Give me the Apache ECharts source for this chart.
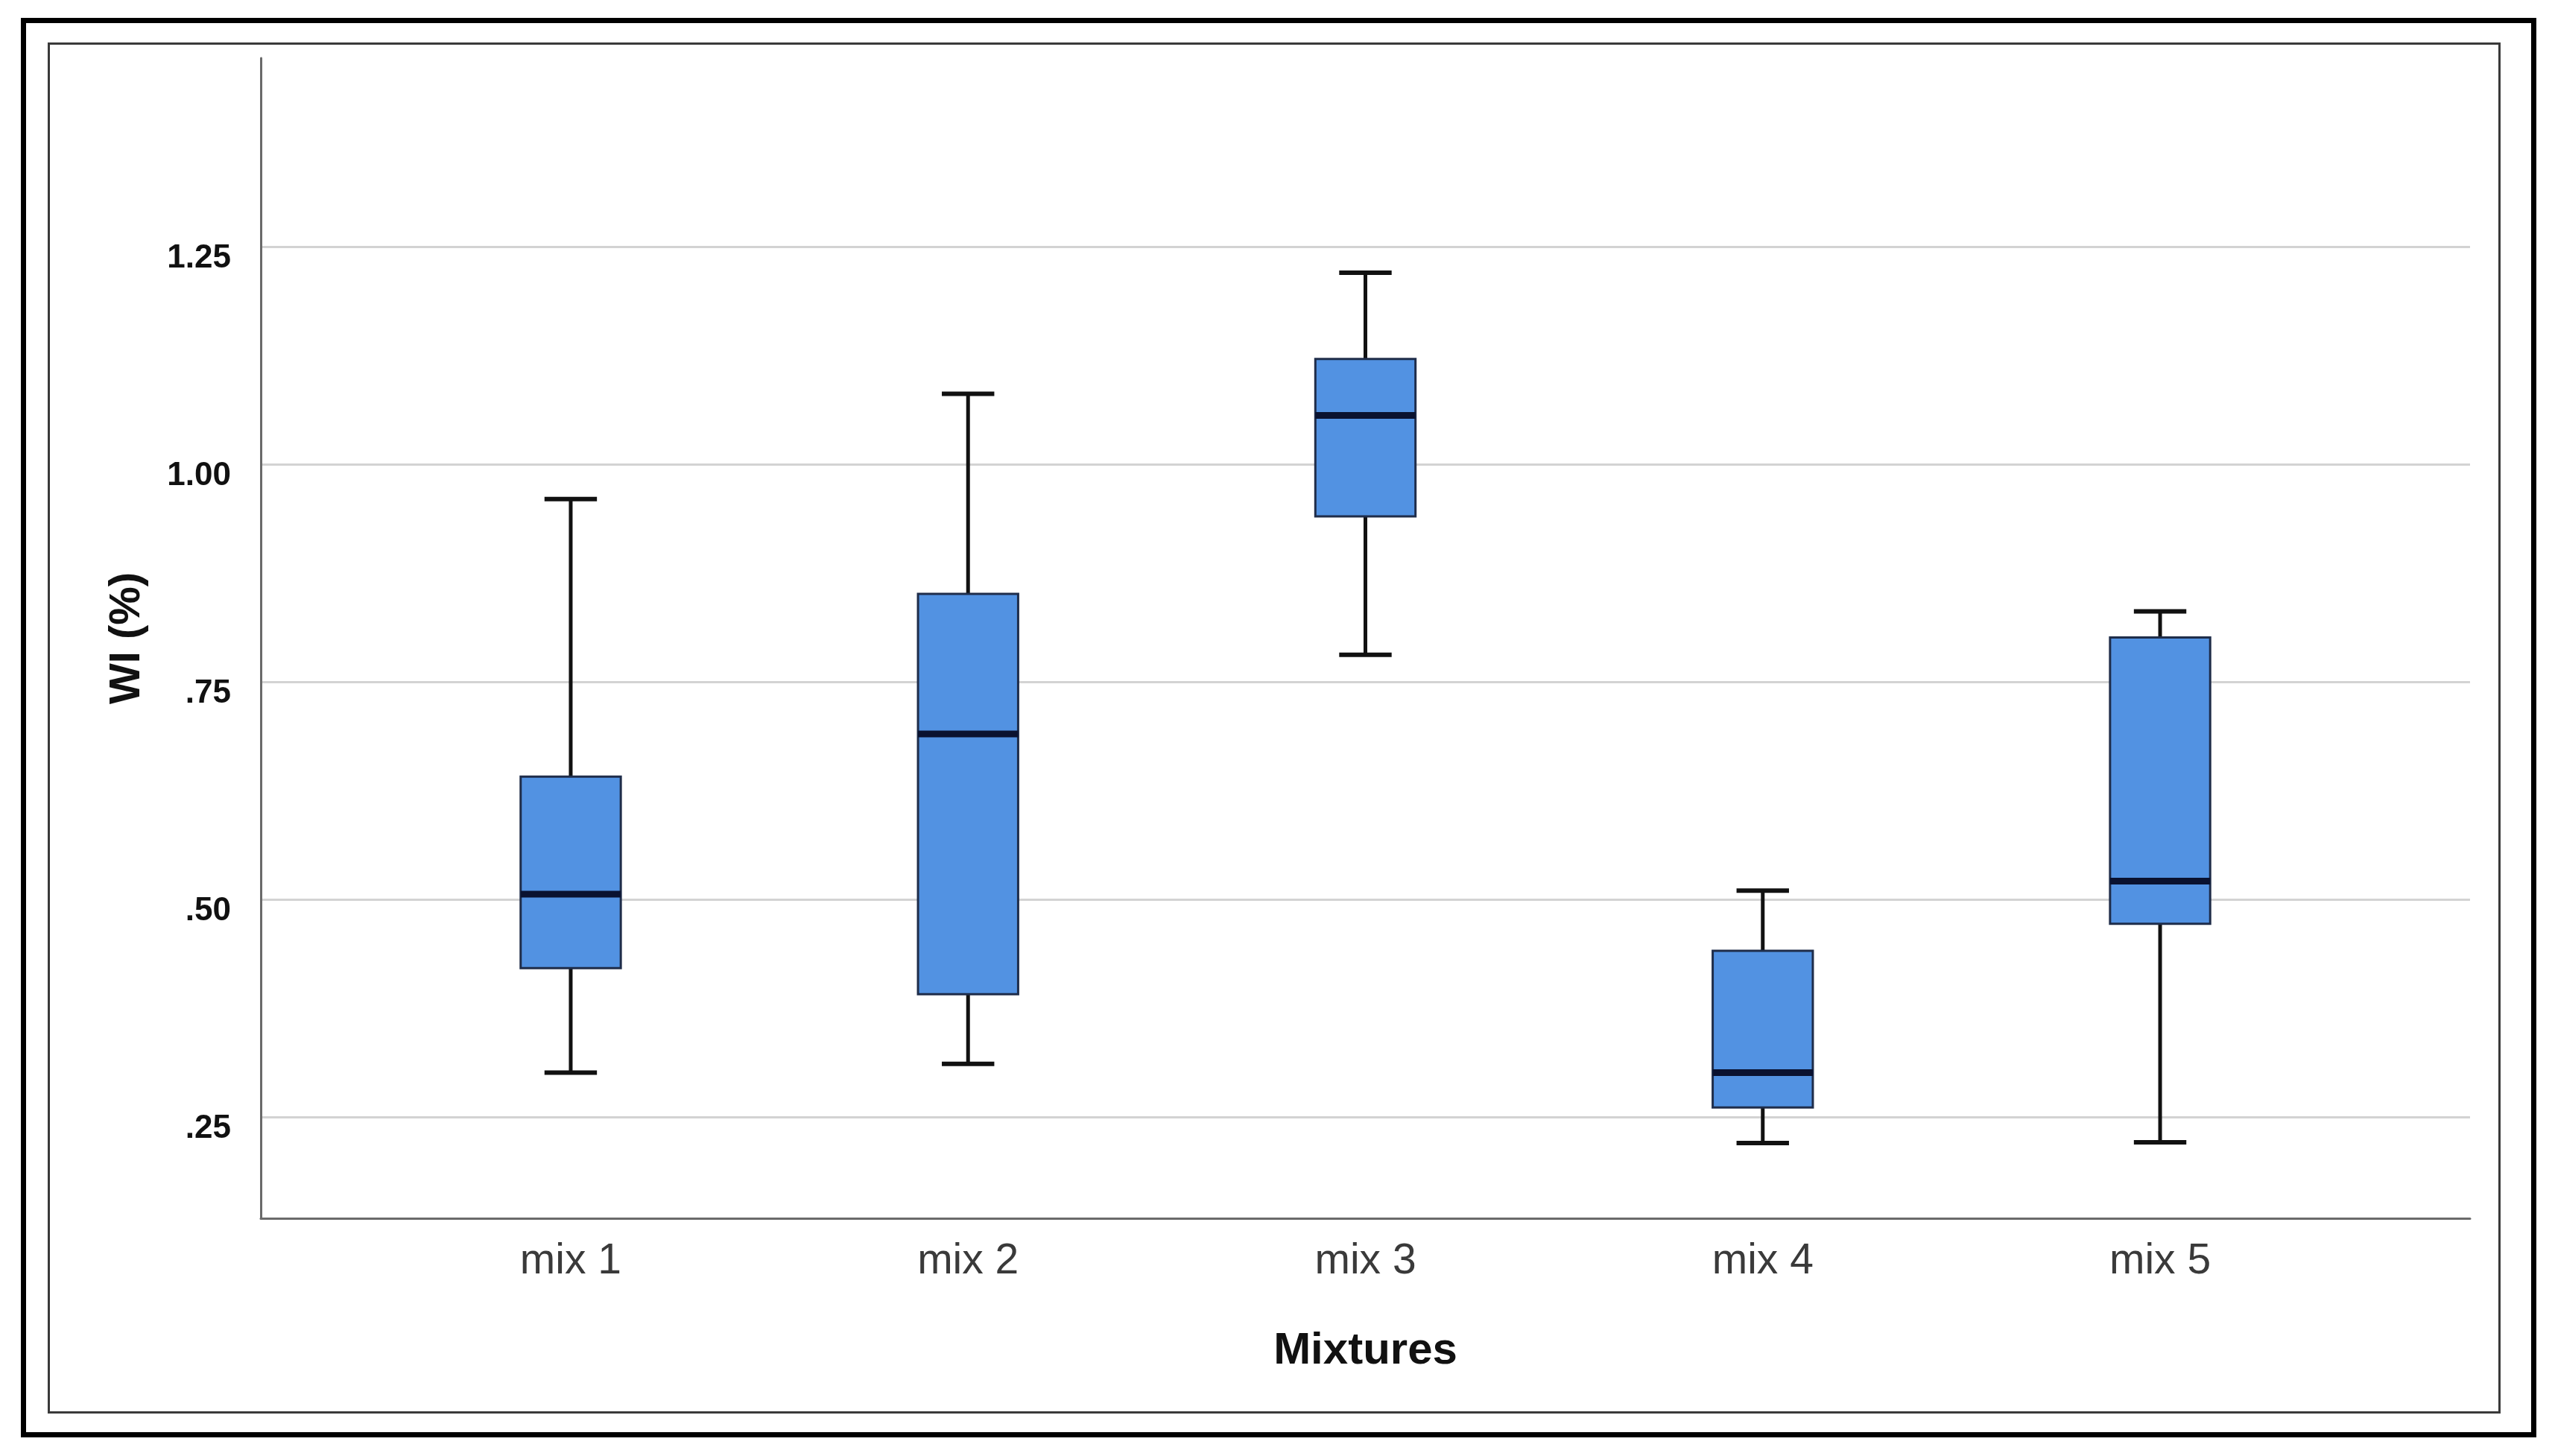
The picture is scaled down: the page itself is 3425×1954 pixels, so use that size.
<!DOCTYPE html>
<html>
<head>
<meta charset="utf-8">
<script src="https://cdn.jsdelivr.net/npm/echarts@6/dist/echarts.min.js"></script>
<style>
  html, body { margin: 0; padding: 0; background: #ffffff; }
  #chart { position: absolute; left: 0; top: 0; width: 3425px; height: 1954px; }
  .outer { position: absolute; left: 28px; top: 24px; width: 3362px; height: 1891px; border: 7px solid #000; pointer-events: none; }
  .inner { position: absolute; left: 64px; top: 57px; width: 3286px; height: 1834px; border: 3px solid #3a3a3a; pointer-events: none; }
</style>
</head>
<body>
<div id="chart"></div>
<div class="outer"></div>
<div class="inner"></div>
<script>
// ---- data ----
const categories = ['mix 1', 'mix 2', 'mix 3', 'mix 4', 'mix 5'];
const whiskerLow  = [0.301, 0.311, 0.781, 0.220, 0.221];
const quartile1   = [0.421, 0.391, 0.940, 0.261, 0.472];
const medians     = [0.506, 0.690, 1.056, 0.301, 0.521];
const quartile3   = [0.641, 0.851, 1.121, 0.441, 0.801];
const whiskerHigh = [0.960, 1.081, 1.220, 0.510, 0.831];
const yTickValues = [0.25, 0.50, 0.75, 1.00, 1.25];
const yTickLabels = ['.25', '.50', '.75', '1.00', '1.25'];

const boxData = categories.map((c, i) => [i, whiskerLow[i], quartile1[i], medians[i], quartile3[i], whiskerHigh[i]]);

const chart = echarts.init(document.getElementById('chart'), null, { renderer: 'canvas' });

const FONT = "'Liberation Sans', Arial, sans-serif";

function renderBox(params, api) {
  const x = api.value(0);
  const lo = api.value(1), q1 = api.value(2), med = api.value(3), q3 = api.value(4), hi = api.value(5);
  const band = api.size([1, 0])[0];
  const half = band * 0.126;
  const capHalf = band * 0.066;
  const pLo = api.coord([x, lo]);
  const pQ1 = api.coord([x, q1]);
  const pMed = api.coord([x, med]);
  const pQ3 = api.coord([x, q3]);
  const pHi = api.coord([x, hi]);
  const cx = pMed[0];
  const whiskerStyle = { stroke: '#111111', lineWidth: 5 };
  const capStyle = { stroke: '#111111', lineWidth: 6 };
  return {
    type: 'group',
    children: [
      { type: 'line', shape: { x1: cx, y1: pHi[1], x2: cx, y2: pQ3[1] }, style: whiskerStyle },
      { type: 'line', shape: { x1: cx, y1: pQ1[1], x2: cx, y2: pLo[1] }, style: whiskerStyle },
      { type: 'line', shape: { x1: cx - capHalf, y1: pHi[1], x2: cx + capHalf, y2: pHi[1] }, style: capStyle },
      { type: 'line', shape: { x1: cx - capHalf, y1: pLo[1], x2: cx + capHalf, y2: pLo[1] }, style: capStyle },
      { type: 'rect', shape: { x: cx - half, y: pQ3[1], width: half * 2, height: pQ1[1] - pQ3[1] },
        style: { fill: '#5292e2', stroke: '#1f2d4a', lineWidth: 3 } },
      { type: 'line', shape: { x1: cx - half, y1: pMed[1], x2: cx + half, y2: pMed[1] },
        style: { stroke: '#0a1230', lineWidth: 9 } }
    ]
  };
}

const option = {
  backgroundColor: '#ffffff',
  animation: false,
  grid: { left: 350, right: 110, top: 78, bottom: 319, containLabel: false },
  xAxis: {
    type: 'value',
    min: -0.78,
    max: 4.78,
    name: 'Mixtures',
    nameLocation: 'middle',
    nameGap: 148,
    nameTextStyle: { fontFamily: FONT, fontSize: 60, fontWeight: 'bold', color: '#111111' },
    axisLine: { show: true, onZero: false, lineStyle: { color: '#6a6a6a', width: 3 } },
    axisTick: { show: false, customValues: [0, 1, 2, 3, 4] },
    splitLine: { show: false },
    axisLabel: {
      customValues: [0, 1, 2, 3, 4],
      formatter: (v) => categories[Math.round(v)] || '',
      fontFamily: FONT, fontSize: 57, color: '#3a3a3a', margin: 30
    }
  },
  yAxis: {
    type: 'value',
    min: 0.1336,
    max: 1.4666,
    name: 'WI (%)',
    nameLocation: 'middle',
    nameRotate: 90,
    nameGap: 150,
    nameTextStyle: { fontFamily: FONT, fontSize: 58, fontWeight: 'bold', color: '#111111' },
    axisLine: { show: true, onZero: false, lineStyle: { color: '#6a6a6a', width: 3 } },
    axisTick: { show: false, customValues: yTickValues },
    splitLine: { show: true, lineStyle: { color: '#d3d3d3', width: 3 } },
    axisLabel: {
      customValues: yTickValues,
      formatter: (v) => {
        const idx = yTickValues.findIndex(t => Math.abs(t - v) < 1e-6);
        return idx >= 0 ? yTickLabels[idx] : '';
      },
      fontFamily: FONT, fontSize: 44, fontWeight: 'bold', color: '#111111', margin: 40,
      verticalAlign: 'top', lineHeight: 32
    }
  },
  series: [{
    type: 'custom',
    renderItem: renderBox,
    encode: { x: 0, y: [1, 2, 3, 4, 5] },
    data: boxData,
    clip: false
  }]
};

chart.setOption(option);
</script>
</body>
</html>
